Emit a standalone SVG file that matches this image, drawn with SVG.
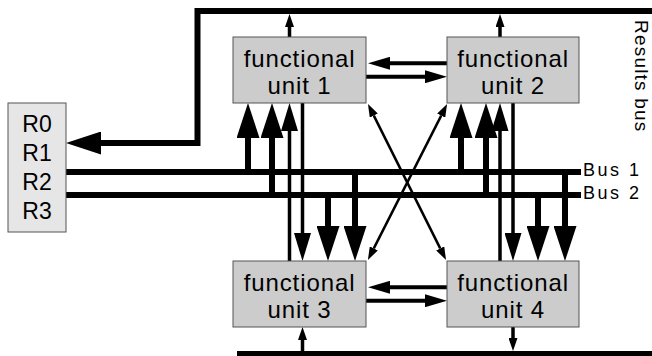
<svg xmlns="http://www.w3.org/2000/svg" width="652" height="356" viewBox="0 0 652 356">
<style>
text{font-family:"Liberation Sans",Arial,sans-serif;fill:#000}
.unit rect{fill:#cccccc;stroke:#555;stroke-width:1}
.unit text{font-size:24px;letter-spacing:0.9px;text-anchor:middle}
.reg rect{fill:#e6e6e6;stroke:#555;stroke-width:1}
.reg text{font-size:23px;text-anchor:middle}
.bus{stroke:#000;stroke-width:6;fill:none}
.thick{stroke:#000;stroke-width:6;fill:none}
.thin{stroke:#000;stroke-width:3.5;fill:none}
.hor{stroke:#000;stroke-width:4;fill:none}
.diag{stroke:#000;stroke-width:2.5;fill:none}
.lbl{font-size:18px;letter-spacing:2.5px}
</style>
<defs>
<marker id="big" markerUnits="userSpaceOnUse" markerWidth="35" markerHeight="23" viewBox="0 0 35 23" refX="0" refY="11.5" orient="auto"><path d="M0,0 L35,11.5 L0,23 z" fill="#000"/></marker>
<marker id="mid" markerUnits="userSpaceOnUse" markerWidth="28" markerHeight="17" viewBox="0 0 28 17" refX="0" refY="8.5" orient="auto"><path d="M0,0 L28,8.5 L0,17 z" fill="#000"/></marker>
<marker id="hh" markerUnits="userSpaceOnUse" markerWidth="22" markerHeight="13" viewBox="0 0 22 13" refX="0" refY="6.5" orient="auto"><path d="M0,0 L22,6.5 L0,13 z" fill="#000"/></marker>
<marker id="sm" markerUnits="userSpaceOnUse" markerWidth="13" markerHeight="9" viewBox="0 0 13 9" refX="0" refY="4.5" orient="auto-start-reverse"><path d="M0,0 L13,4.5 L0,9 z" fill="#000"/></marker>
</defs>

<g id="connectors">
  <!-- buses -->
  <path id="results-bus" class="bus" d="M652,11 H197.5 V143 H101" marker-end="url(#big)"/>
  <line id="bus1" class="bus" x1="66" y1="172" x2="581" y2="172"/>
  <line id="bus2" class="bus" x1="66" y1="195" x2="581" y2="195"/>
  <line id="bottom-bus" class="bus" x1="237" y1="354" x2="652" y2="354"/>

  <!-- unit 1 / unit 3 column -->
  <line class="thick" x1="248" y1="172" x2="248" y2="138" marker-end="url(#big)"/>
  <line class="thick" x1="272" y1="195" x2="272" y2="138" marker-end="url(#big)"/>
  <line class="thin" x1="289.5" y1="261" x2="289.5" y2="131" marker-end="url(#mid)"/>
  <line class="thin" x1="302.5" y1="103" x2="302.5" y2="233" marker-end="url(#mid)"/>
  <line class="thick" x1="328" y1="195" x2="328" y2="226" marker-end="url(#big)"/>
  <line class="thick" x1="355" y1="172" x2="355" y2="226" marker-end="url(#big)"/>
  <line class="thin" x1="289.5" y1="37" x2="289.5" y2="27" marker-end="url(#sm)"/>
  <line class="thin" x1="302.5" y1="351" x2="302.5" y2="340" marker-end="url(#sm)"/>

  <!-- unit 2 / unit 4 column -->
  <line class="thick" x1="461" y1="172" x2="461" y2="138" marker-end="url(#big)"/>
  <line class="thick" x1="486" y1="195" x2="486" y2="138" marker-end="url(#big)"/>
  <line class="thin" x1="500" y1="261" x2="500" y2="131" marker-end="url(#mid)"/>
  <line class="thin" x1="513" y1="103" x2="513" y2="233" marker-end="url(#mid)"/>
  <line class="thick" x1="538" y1="195" x2="538" y2="226" marker-end="url(#big)"/>
  <line class="thick" x1="565" y1="172" x2="565" y2="226" marker-end="url(#big)"/>
  <line class="thin" x1="500" y1="37" x2="500" y2="27" marker-end="url(#sm)"/>
  <line class="thin" x1="513" y1="327" x2="513" y2="338" marker-end="url(#sm)"/>

  <!-- horizontal unit-to-unit -->
  <line class="hor" x1="447" y1="63.3" x2="390" y2="63.3" marker-end="url(#hh)"/>
  <line class="hor" x1="366" y1="76.7" x2="425" y2="76.7" marker-end="url(#hh)"/>
  <line class="hor" x1="447" y1="287.3" x2="390" y2="287.3" marker-end="url(#hh)"/>
  <line class="hor" x1="366" y1="300.7" x2="425" y2="300.7" marker-end="url(#hh)"/>

  <!-- diagonals -->
  <line class="diag" x1="373.8" y1="115.6" x2="440.2" y2="248.4" marker-start="url(#sm)" marker-end="url(#sm)"/>
  <line class="diag" x1="441.2" y1="115.6" x2="373.8" y2="248.4" marker-start="url(#sm)" marker-end="url(#sm)"/>
</g>

<g id="registers" class="reg">
  <rect x="8" y="103" width="58" height="129"/>
  <text x="37" y="132">R0</text>
  <text x="37" y="161">R1</text>
  <text x="37" y="190">R2</text>
  <text x="37" y="219">R3</text>
</g>

<g id="unit1" class="unit">
  <rect x="233" y="37" width="133" height="66"/>
  <text x="299.5" y="67">functional</text>
  <text x="299.5" y="94">unit 1</text>
</g>
<g id="unit2" class="unit">
  <rect x="447" y="37" width="132" height="66"/>
  <text x="513" y="67">functional</text>
  <text x="513" y="94">unit 2</text>
</g>
<g id="unit3" class="unit">
  <rect x="233" y="261" width="133" height="66"/>
  <text x="299.5" y="291">functional</text>
  <text x="299.5" y="318">unit 3</text>
</g>
<g id="unit4" class="unit">
  <rect x="447" y="261" width="132" height="66"/>
  <text x="513" y="291">functional</text>
  <text x="513" y="318">unit 4</text>
</g>

<g id="labels">
  <text class="lbl" x="583" y="176">Bus 1</text>
  <text class="lbl" x="583" y="199">Bus 2</text>
  <text transform="translate(635,20) rotate(90)" style="font-size:19px;letter-spacing:1.2px">Results bus</text>
</g>
</svg>
